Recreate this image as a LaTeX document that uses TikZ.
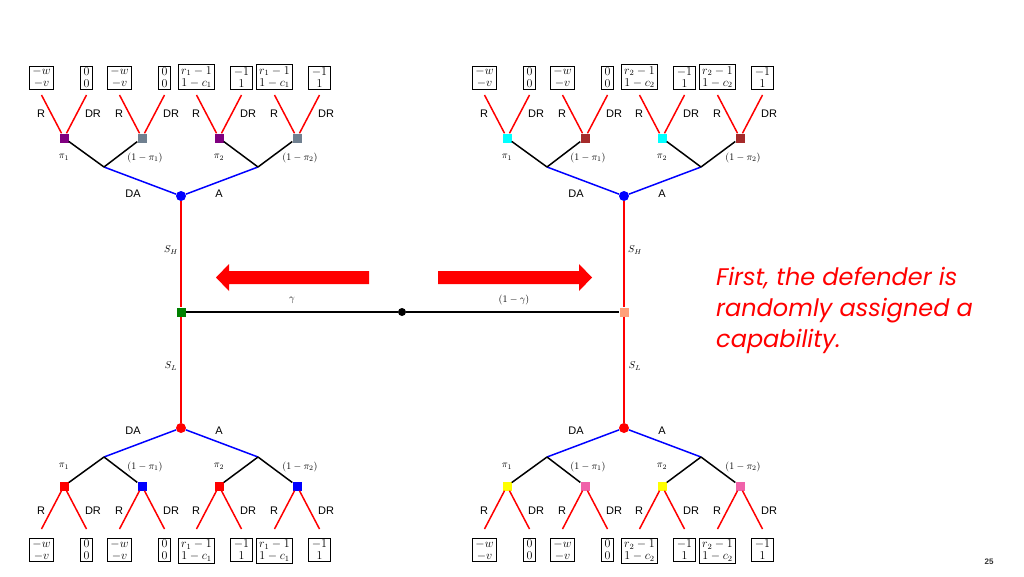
\documentclass[tikz,border=0pt]{standalone}
\usepackage{amsmath}
\usepackage{fontspec}
\usetikzlibrary{positioning}
\newfontfamily\lblfont{Liberation Sans}
\newfontfamily\notefont{Poppins}
\definecolor{slate}{RGB}{112,128,144}
\definecolor{brick}{RGB}{165,42,42}
\definecolor{peach}{RGB}{255,160,122}
\definecolor{rose}{RGB}{240,98,170}
\definecolor{leafgreen}{RGB}{0,128,0}
\definecolor{aqua}{RGB}{0,255,255}
\definecolor{lemon}{RGB}{255,255,0}
\definecolor{plum}{RGB}{128,0,128}

\tikzset{
  decsq/.style={rectangle,minimum size=9pt,inner sep=0pt},
  chdot/.style={circle,minimum size=10pt,inner sep=0pt},
  payoff/.style={draw,line width=1.1pt,inner xsep=3pt,inner ysep=1.5pt,align=center,
    font=\fontsize{11.5}{12}\selectfont},
  act/.style={font=\lblfont\fontsize{11}{11}\selectfont},
  prob/.style={font=\fontsize{10}{10}\selectfont},
  redbr/.style={red,line width=1.5pt},
  bluebr/.style={blue,line width=1.5pt},
  blackbr/.style={black,line width=1.5pt}
}

\begin{document}
\begin{tikzpicture}[x=1pt,y=-1pt]
  \useasboundingbox (0,0) rectangle (1024,576);

  % four copies of the attacker/defender subtree
  \foreach \tn/\dx/\ry/\sg/\kk/\ca/\cb/\rc/\bo/\an in
    {tl/0/196/-1/1/plum/slate/blue/106/south,
     tr/443/196/-1/2/aqua/brick/blue/106/south,
     bl/0/428/1/1/red/blue/red/110/north,
     br/443/428/1/2/lemon/rose/red/110/north}
  {
    \node[chdot,fill=\rc] (\tn-root) at (181+\dx,\ry) {};
    \coordinate (\tn-b1) at ({104+\dx},{\ry+\sg*29});
    \coordinate (\tn-b2) at ({258+\dx},{\ry+\sg*29});
    \draw[bluebr] (\tn-b1) -- (\tn-root) -- (\tn-b2);
    \node[act] (\tn-da) at ({133+\dx},{\ry+\sg*2.5}) {DA};
    \node[act] (\tn-a) at ({219+\dx},{\ry+\sg*2.5}) {A};
    \foreach \q/\sx/\fc/\bp/\pl/\lx/\pr/\pd in
      {1/64/\ca/b1/{\pi_1}/0/{$-w$\\$-v$}/{$0$\\$0$},
       2/142/\cb/b1/{(1-\pi_1)}/3/{$-w$\\$-v$}/{$0$\\$0$},
       3/219/\ca/b2/{\pi_2}/0/{$r_\kk-1$\\$1-c_\kk$}/{$-1$\\$1$},
       4/297/\cb/b2/{(1-\pi_2)}/3/{$r_\kk-1$\\$1-c_\kk$}/{$-1$\\$1$}}
    {
      \node[decsq,fill=\fc] (\tn-q\q) at ({\sx+\dx},{\ry+\sg*58}) {};
      \draw[blackbr] (\tn-\bp) -- (\tn-q\q);
      \node[prob] (\tn-p\q) at ({\sx+\dx+\lx},{\ry+\sg*38.5}) {$\pl$};
      \coordinate (\tn-r\q) at ({\sx+\dx-22.5},{\ry+\sg*101});
      \coordinate (\tn-d\q) at ({\sx+\dx+22.5},{\ry+\sg*101});
      \draw[redbr] (\tn-r\q) -- (\tn-q\q) -- (\tn-d\q);
      \node[act] (\tn-lr\q) at ({\sx+\dx-23},{\ry+\sg*82.5}) {R};
      \node[act] (\tn-ld\q) at ({\sx+\dx+29},{\ry+\sg*82.5}) {DR};
      \node[payoff,anchor=\an] (\tn-vr\q) at ({\sx+\dx-22.5},{\ry+\sg*\bo}) {\pr};
      \node[payoff,anchor=\an] (\tn-vd\q) at ({\sx+\dx+22.5},{\ry+\sg*\bo}) {\pd};
    }
  }

  % nature picks the capability
  \node[decsq,fill=leafgreen] (gsq) at (181,312) {};
  \node[decsq,fill=peach] (psq) at (624,312) {};
  \node[circle,fill=black,minimum size=8pt,inner sep=0pt] (nat) at (402,312) {};
  \draw[red,line width=2pt] (tl-root) -- (gsq) -- (bl-root);
  \draw[red,line width=2pt] (tr-root) -- (psq) -- (br-root);
  \draw[black,line width=1.8pt] (gsq) -- (nat) -- (psq);
  \node[prob] (gam) at (292,300) {$\gamma$};
  \node[prob] (ngam) at (514,300) {$(1-\gamma)$};
  \node[prob] (shl) at (171,250) {$S_H$};
  \node[prob] (sll) at (171,366) {$S_L$};
  \node[prob] (shr) at (635,250) {$S_H$};
  \node[prob] (slr) at (635,366) {$S_L$};

  % block arrows
  \fill[red] (369,271) -- (229,271) -- (229,264) -- (216,277.5) -- (229,291)
    -- (229,284) -- (369,284) -- cycle;
  \fill[red] (438,271) -- (579,271) -- (579,264) -- (592,277.5) -- (579,291)
    -- (579,284) -- (438,284) -- cycle;

  \node[anchor=north west,align=left,text=red,inner sep=0pt,
    font=\notefont\itshape\fontsize{24}{31}\selectfont] (note) at (716,267)
    {First, the defender is\\randomly assigned a\\capability.};
  \node[font=\lblfont\bfseries\fontsize{8}{8}\selectfont,text=black!80] (pgno) at (989,562) {25};
\end{tikzpicture}
\end{document}
